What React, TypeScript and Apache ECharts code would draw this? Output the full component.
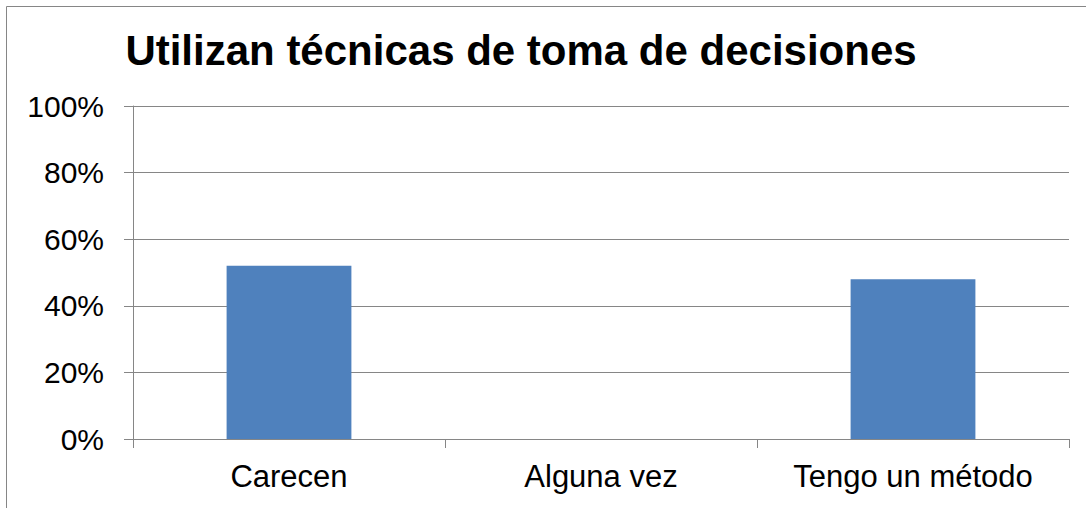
import React, { useEffect, useRef } from "react";
import * as echarts from "echarts";

const categories = ["Carecen", "Alguna vez", "Tengo un método"];
const values = [0.52, 0, 0.48];
const yTicks = [0, 0.2, 0.4, 0.6, 0.8, 1.0];
const title = "Utilizan técnicas de toma de decisiones";

export default function App() {
  const ref = useRef<HTMLDivElement>(null);
  useEffect(() => {
    if (!ref.current) return;
    const chart = echarts.init(ref.current, undefined, { renderer: "svg" });
    const font = "Liberation Sans, Arial, sans-serif";
    chart.setOption({
      animation: false,
      backgroundColor: "#ffffff",
      title: {
        text: title,
        left: 516,
        top: 24,
        textAlign: "center",
        textStyle: { fontFamily: font, fontSize: 42, fontWeight: "bold", color: "#000" },
      },
      graphic: [
        {
          type: "rect",
          shape: { x: 6.5, y: 6.5, width: 1200, height: 600 },
          style: { fill: "none", stroke: "#868686", lineWidth: 1 },
          silent: true,
        },
      ],
      grid: { left: 133, right: 17, top: 106, bottom: 69 },
      xAxis: {
        type: "category",
        data: categories,
        axisLine: { show: true, lineStyle: { color: "#868686", width: 1 } },
        axisTick: { show: true, length: 9, alignWithLabel: false, lineStyle: { color: "#868686" } },
        axisLabel: { fontFamily: font, fontSize: 31, color: "#000", margin: 22 },
      },
      yAxis: {
        type: "value",
        min: 0,
        max: 1,
        interval: 0.2,
        axisLine: { show: true, lineStyle: { color: "#868686", width: 1 } },
        axisTick: { show: true, length: 9, lineStyle: { color: "#868686" } },
        splitLine: { show: true, lineStyle: { color: "#868686", width: 1 } },
        axisLabel: {
          fontFamily: font,
          fontSize: 30,
          color: "#000",
          margin: 29,
          formatter: (v: number) => {
            const t = yTicks.find((x) => Math.abs(x - v) < 1e-9);
            return t !== undefined ? Math.round(t * 100) + "%" : "";
          },
        },
      },
      series: [
        {
          type: "bar",
          data: values,
          barCategoryGap: "60%",
          itemStyle: { color: "#4F81BD" },
        },
      ],
    });
    return () => chart.dispose();
  }, []);
  return (
    <div
      ref={ref}
      style={{ position: "fixed", left: 0, top: 0, width: 1086, height: 508 }}
    />
  );
}
